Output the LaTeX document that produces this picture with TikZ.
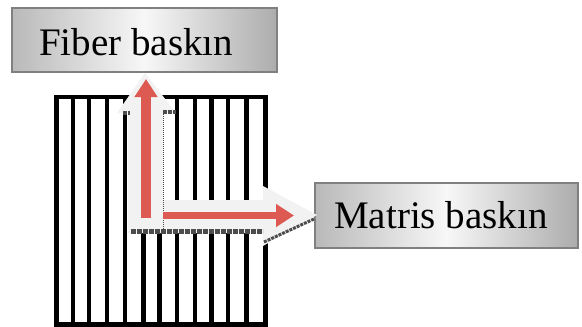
\documentclass[tikz,border=0pt]{standalone}
\usepackage{fontspec}
\setmainfont{Liberation Serif}
\usetikzlibrary{arrows.meta}
\definecolor{redarrow}{RGB}{220,90,82}
\definecolor{halo}{RGB}{242,242,242}
\definecolor{boxedge}{RGB}{128,128,128}
\tikzset{
  lblbox/.style={draw=boxedge, line width=2pt, shading=axis, left color=gray!55, right color=gray!65, middle color=gray!6, inner sep=0pt},
  lbltext/.style={font=\fontsize{39}{39}\selectfont, inner sep=0pt, text=black},
  stripe/.style={line width=4.6pt, black},
  redarr/.style={draw=redarrow, -{Triangle[width=22pt,length=18pt]}},
  dotedge/.style={gray!60!black, densely dotted}
}
\begin{document}
\begin{tikzpicture}[x=1pt,y=-1pt]
\useasboundingbox (0,0) rectangle (582,327);
% labelled boxes
\node[lblbox, minimum width=265pt, minimum height=64pt] (fb) at (144.5,40) {};
\node[lbltext, anchor=base west] (fbt) at (39,55) {Fiber baskın};
\node[lblbox, minimum width=263pt, minimum height=65pt] (mb) at (446.5,215.5) {};
\node[lbltext, anchor=base west] (mbt) at (334,228) {Matris baskın};
% composite square
\foreach \x in {72.8,88.8,107.1,125,143.2,159.2,177.1,195,211.7,228,246.7}
  \draw[stripe] (\x,97) -- (\x,324.7);
\draw[stripe] (56.3,97) rectangle (265.7,324.7);
% halo
\fill[halo] (128,233) -- (128,113) -- (117,113) -- (145,73) -- (176,113)
  -- (163,113) -- (163,200) -- (263,200) -- (263,186) -- (317,215)
  -- (263,246) -- (263,233) -- cycle;
\draw[dotedge, line width=5pt] (131,231) -- (263,231);
\draw[dotedge, line width=3pt] (264,242) -- (314,219);
\draw[dotedge, line width=1pt] (163,114) -- (163,229);
\draw[dotedge, line width=4pt] (123,113) -- (130,113);
\draw[dotedge, line width=4pt] (163,112) -- (176,112);
% red arrows
\coordinate (vs) at (146,218);
\coordinate (vt) at (146,79);
\coordinate (hs) at (163,215.5);
\coordinate (ht) at (294,215.5);
\draw[redarr, line width=10pt] (vs) -- (vt);
\draw[redarr, line width=7pt] (hs) -- (ht);
\end{tikzpicture}
\end{document}
